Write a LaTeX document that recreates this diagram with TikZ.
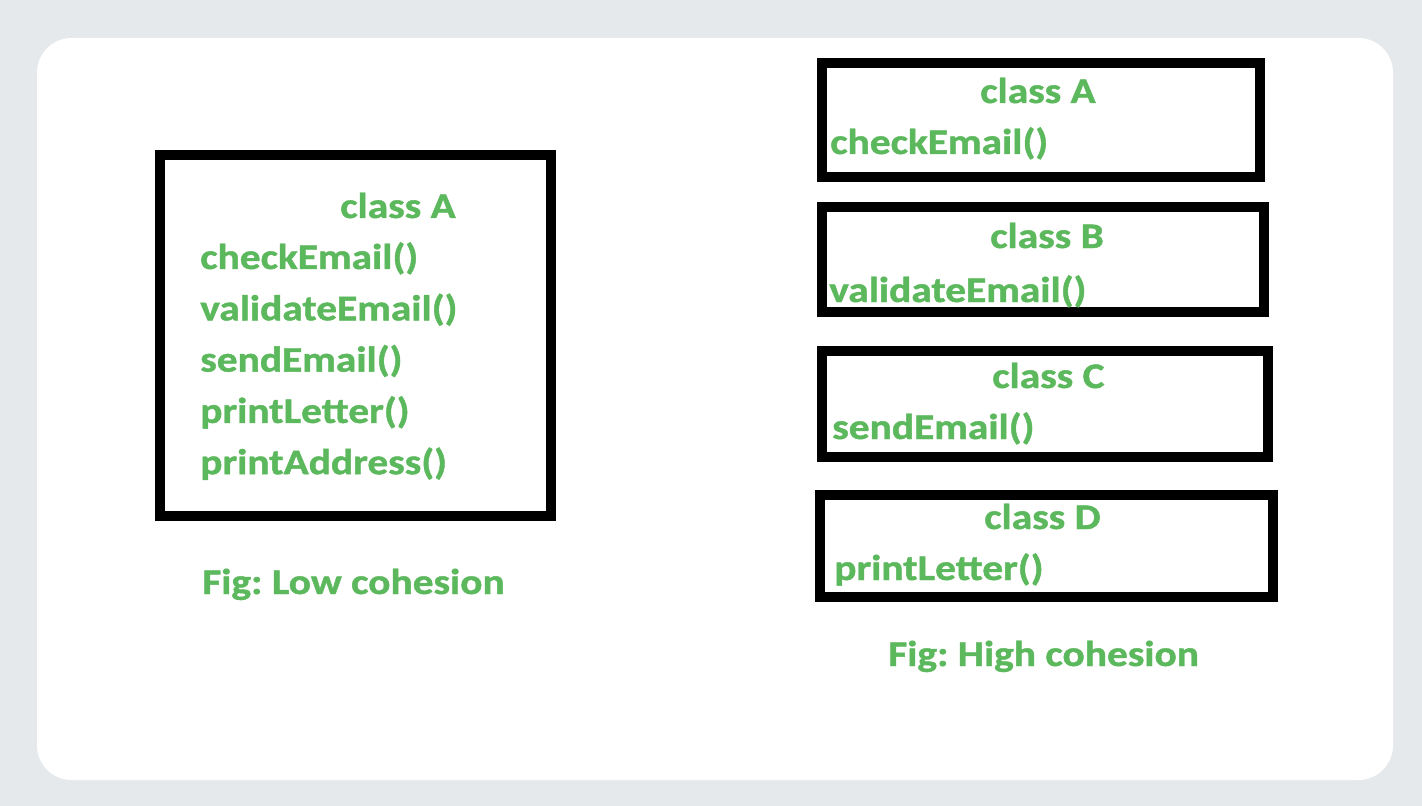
\documentclass[tikz,border=0pt]{standalone}
\usepackage{fontspec}
\setmainfont{Carlito}[FakeStretch=1.15,BoldFeatures={FakeBold=1.2}]
\frenchspacing
\definecolor{pagegray}{HTML}{E6E9EC}
\definecolor{txtgreen}{HTML}{5CB85C}
\tikzset{
classbox/.style={draw=black, line width=7.5pt},
lbl/.style={anchor=base west, inner sep=0pt, text=txtgreen, font=\fontsize{27}{32}\selectfont\bfseries},
}

\begin{document}
\begin{tikzpicture}[x=0.75pt,y=-0.75pt]
\fill[pagegray] (0,0) rectangle (1422,806);
\fill[white, rounded corners=26pt] (37,38) rectangle (1393,780);
% low cohesion
\draw[classbox] (160,155) rectangle (551,516);
\node[lbl] (lowA) at (340,218) {class A};
\foreach \m [count=\i] in {checkEmail(),validateEmail(),sendEmail(),printLetter(),printAddress()}
  \node[lbl] (low-\i) at (200,{269+51.3*(\i-1)}) {\m};
\node[lbl] (lowfig) at (202,594) {Fig: Low cohesion};
% high cohesion
\draw[classbox] (822,63) rectangle (1260,177);
\draw[classbox] (822,207) rectangle (1264,312);
\draw[classbox] (822,351) rectangle (1268,457);
\draw[classbox] (820,495) rectangle (1273,597);
\node[lbl] (hiA) at (980,103) {class A};
\node[lbl] (hiA-m) at (830,154) {checkEmail()};
\node[lbl] (hiB) at (990,248) {class B};
\node[lbl] (hiB-m) at (829,302) {validateEmail()};
\node[lbl] (hiC) at (992,388) {class C};
\node[lbl] (hiC-m) at (832,439) {sendEmail()};
\node[lbl] (hiD) at (984,529) {class D};
\node[lbl] (hiD-m) at (834,580) {printLetter()};
\node[lbl] (hifig) at (888,666) {Fig: High cohesion};
\end{tikzpicture}
\end{document}
